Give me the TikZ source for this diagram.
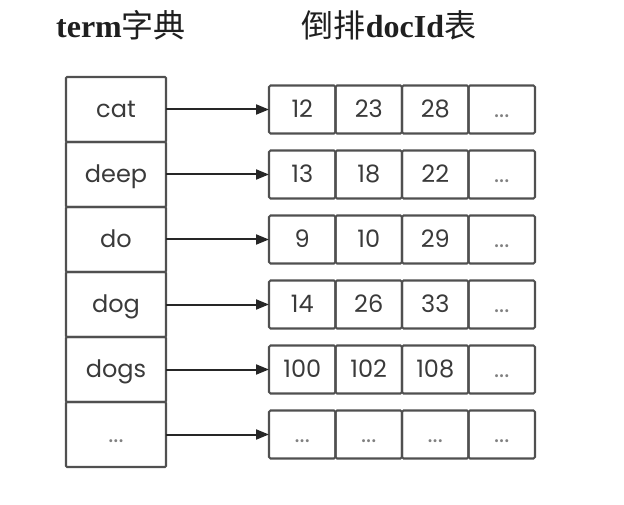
\documentclass[tikz,border=0pt]{standalone}
\usepackage{fontspec}
\setmainfont{Liberation Serif}
\newfontfamily\cjk{Noto Sans CJK SC}
\newfontfamily\cellfont{Poppins}
\usetikzlibrary{arrows.meta}
\definecolor{linec}{HTML}{505050}
\definecolor{txtc}{HTML}{3A3A3A}
\newcommand\myel{{\color{black!50}...}}
\tikzset{
  termbox/.style={draw=linec, line width=2.1pt, minimum width=100pt, minimum height=65pt,
    inner sep=0pt, outer sep=0pt, rounded corners=1pt, text=txtc,
    font=\cellfont\fontsize{24}{24}\selectfont, text height=19pt, text depth=3pt},
  cell/.style={draw=linec, line width=2.1pt, minimum width=66.5pt, minimum height=48pt,
    inner sep=0pt, outer sep=0pt, rounded corners=1.5pt, text=txtc,
    font=\cellfont\fontsize{24}{24}\selectfont, text height=19pt, text depth=3pt},
  link/.style={draw=black!85, line width=2pt, -{Triangle[length=13pt,width=10pt]}},
  title/.style={font=\fontsize{32}{32}\selectfont\bfseries, text=black!88, inner sep=0pt}
}
\begin{document}
\begin{tikzpicture}[x=1pt,y=-1pt]
\useasboundingbox (0,0) rectangle (624,505);
\node[title] (t1) at (121,25) {term{\cjk\mdseries 字典}};
\node[title] (t2) at (389,25) {{\cjk\mdseries 倒排}docId{\cjk\mdseries 表}};
\foreach \i/\w/\a/\b/\c/\d in {1/cat/12/23/28/\myel,2/deep/13/18/22/\myel,3/do/9/10/29/\myel,4/dog/14/26/33/\myel,5/dogs/100/102/108/\myel,6/\myel/\myel/\myel/\myel/\myel}{
  \pgfmathsetmacro{\yy}{109.5+65*(\i-1)}
  \node[termbox] (w\i) at (116,\yy) {\w};
  \node[cell] (c\i a) at (302.25,\yy) {\a};
  \node[cell] (c\i b) at (368.75,\yy) {\b};
  \node[cell] (c\i c) at (435.25,\yy) {\c};
  \node[cell] (c\i d) at (501.75,\yy) {\d};
  \draw[link] (w\i.east) -- (c\i a.west);
}
\end{tikzpicture}
\end{document}
